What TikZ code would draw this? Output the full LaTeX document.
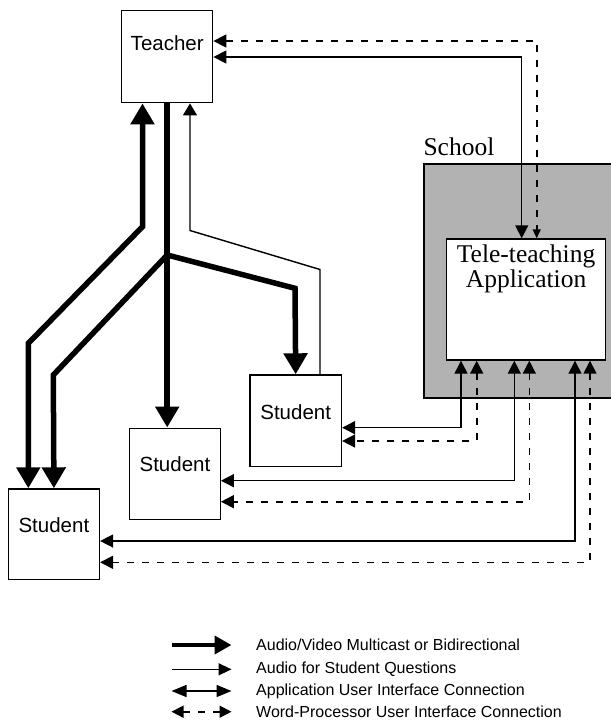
\documentclass[tikz,border=0pt]{standalone}
\usepackage{fontspec}
\setmainfont{Liberation Serif}
\setsansfont{Liberation Sans}
\usepackage{xcolor}
\usetikzlibrary{arrows.meta, positioning, calc}
\definecolor{schoolgray}{gray}{0.7}

\begin{document}
\begin{tikzpicture}[x=1pt, y=-1pt,
    box/.style={draw, line width=1.4pt, fill=white, inner sep=0pt, anchor=north west},
    boxtext/.style={font=\sffamily\fontsize{20.5}{24}\selectfont, inner sep=0pt, anchor=base},
    legtext/.style={font=\sffamily\fontsize{16}{19}\selectfont, inner sep=0pt, anchor=west},
    av/.style={line width=5.5pt, line join=miter},
    avtip/.style={-{Triangle[length=21pt,width=23pt]}},
    avboth/.style={{Triangle[length=21pt,width=23pt]}-{Triangle[length=21pt,width=23pt]}},
    quest/.style={line width=1.4pt, -{Triangle[length=12pt,width=14pt]}},
    ui/.style={line width=1.4pt, {Triangle[length=13pt,width=13pt]}-{Triangle[length=13pt,width=13pt]}},
    wp/.style={line width=1.6pt, dash pattern=on 7pt off 8pt, {Triangle[length=13pt,width=13pt]}-{Triangle[length=13pt,width=13pt]}}
  ]
  \useasboundingbox (0,0) rectangle (610,722);

  % school and application
  \node[draw, line width=2pt, fill=schoolgray, minimum width=200, minimum height=233.4, anchor=north west] (school) at (423.3,163.3) {};
  \node[font=\fontsize{25.5}{25}\selectfont, inner sep=0pt, anchor=base west] (schooltxt) at ([yshift=8]school.north west) {School};
  \node[box, minimum width=159.3, minimum height=121] (app) at (445.7,238.3) {};
  \node[font=\fontsize{25.5}{25}\selectfont, inner sep=0pt, anchor=north, align=center] (apptxt) at ([yshift=-6]app.north) {Tele-teaching\\Application};

  % teacher and students
  \node[box, minimum width=91, minimum height=92] (teacher) at (121,10) {};
  \node[boxtext] (teachertxt) at ([yshift=-40.5]teacher.north) {Teacher};
  \node[box, minimum width=91.4, minimum height=91.4] (stuA) at (249.3,374.3) {};
  \node[boxtext] (stuAtxt) at ([yshift=-45.5]stuA.north) {Student};
  \node[box, minimum width=90.5, minimum height=91] (stuB) at (129,427.5) {};
  \node[boxtext] (stuBtxt) at ([yshift=-44.2]stuB.north) {Student};
  \node[box, minimum width=91, minimum height=90.7] (stuC) at (7.7,488.3) {};
  \node[boxtext] (stuCtxt) at ([yshift=-44.4]stuC.north) {Student};

  % audio/video
  \coordinate (split) at (teacher.south |- 0,255);
  \draw[av, avtip] (teacher.south) -- (split) -- (stuB.north -| split);
  \draw[av, avtip] (teacher.south) -- (split) -- (295,288.3) -- (stuA.north);
  \draw[av, avtip] (teacher.south) -- (split) -- (53.3,375) -- (stuC.north);
  \draw[av, avboth] (stuC.north -| 28.3,0) -- (28.3,343.3) -- (142.5,226.7) -- (teacher.south -| 142.5,0);

  % student questions
  \draw[quest] (stuA.north -| 320,0) -- (320,269.5) -- (190,230.5) -- (teacher.south -| 190,0);

  % user interface connections
  \draw[ui] (teacher.east |- 0,57) -| (app.north -| 521.7,0);
  \draw[wp, {Triangle[length=13pt,width=13pt]}-{Triangle[length=9pt,width=8pt]}] (teacher.east |- 0,41) -| (app.north -| 536.7,0);
  \draw[ui] (app.south -| 461,0) |- (stuA.east |- 0,427.7);
  \draw[wp] (app.south -| 476.7,0) |- (stuA.east |- 0,441);
  \draw[ui] (app.south -| 514.3,0) |- (stuB.east |- 0,480.7);
  \draw[wp] (app.south -| 529.3,0) |- (stuB.east |- 0,501.7);
  \draw[ui] (app.south -| 575,0) |- (stuC.east |- 0,541);
  \draw[wp] (app.south -| 590,0) |- (stuC.east |- 0,562.3);

  % legend
  \node[legtext] (lgav) at (256,645) {Audio/Video Multicast or Bidirectional};
  \node[legtext] (lgq) at (256,669.3) {Audio for Student Questions};
  \node[legtext] (lgui) at (256,691) {Application User Interface Connection};
  \node[legtext] (lgwp) at (256,711.7) {Word-Processor User Interface Connection};
  \draw[line width=4pt, -{Triangle[length=17pt,width=18pt]}] ($(lgav.west)+(-84.5,0)$) -- ($(lgav.west)+(-24.5,0)$);
  \draw[line width=1.4pt, -{Triangle[length=13pt,width=12pt]}] ($(lgq.west)+(-84.5,0)$) -- ($(lgq.west)+(-24.5,0)$);
  \draw[ui, {Triangle[length=15pt,width=12pt]}-{Triangle[length=15pt,width=12pt]}] ($(lgui.west)+(-84.5,0)$) -- ($(lgui.west)+(-24.5,0)$);
  \draw[wp, {Triangle[length=12pt,width=12pt]}-{Triangle[length=12pt,width=12pt]}] ($(lgwp.west)+(-84.5,0)$) -- ($(lgwp.west)+(-24.5,0)$);
\end{tikzpicture}
\end{document}
